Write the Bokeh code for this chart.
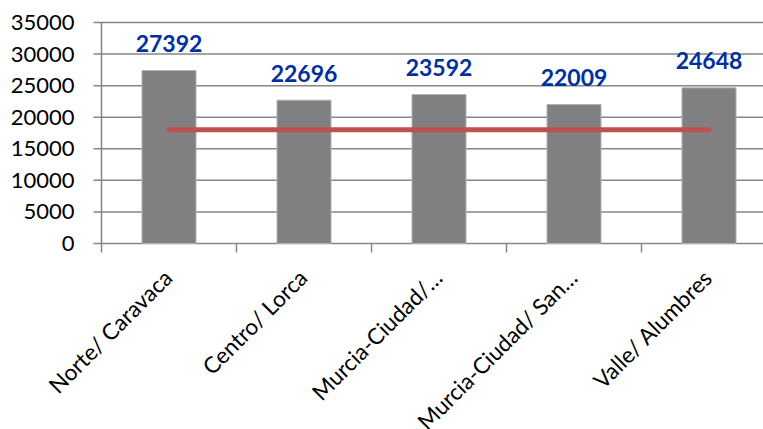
from math import pi

from bokeh.core.properties import value
from bokeh.embed import file_html
from bokeh.models import ColumnDataSource, LabelSet, Range1d
from bokeh.plotting import figure
from bokeh.resources import INLINE

# Areas and their values
categories = ["Norte/ Caravaca", "Centro/ Lorca", "Murcia-Ciudad/\u2026",
              "Murcia-Ciudad/ San\u2026", "Valle/ Alumbres"]
values = [27392, 22696, 23592, 22009, 24648]
# Reference level drawn as a line across the areas
reference = [18000, 18000, 18000, 18000, 18000]
y_ticks = [0, 5000, 10000, 15000, 20000, 25000, 30000, 35000]

FONT = "Lato"
GRID = "#868686"

# Page geometry (pixels). The plotting frame covers the whole page so the
# slanted category names below the axis are not clipped; the value axis is
# drawn by hand at x = 0.
W, H = 763, 429
AXIS_X, AXIS_TOP, AXIS_BOTTOM = 101, 22, 243
PX_PER_CAT = 135
TICK_PX = 8
Y_MAX = 35000

u_y = Y_MAX / (AXIS_BOTTOM - AXIS_TOP)   # value units per pixel
u_x = 1 / PX_PER_CAT                      # category units per pixel

n = len(categories)
xs = [i + 0.5 for i in range(n)]
bounds = list(range(n + 1))

p = figure(width=W, height=H, output_backend="svg", toolbar_location=None,
           x_range=Range1d(-AXIS_X * u_x, (W - AXIS_X) * u_x),
           y_range=Range1d(-(H - AXIS_BOTTOM) * u_y, Y_MAX + AXIS_TOP * u_y),
           x_axis_location=None, y_axis_location=None, min_border=0)
p.outline_line_color = None
p.background_fill_color = "white"
p.border_fill_color = "white"
p.grid.visible = False

# horizontal grid lines, each starting with its tick mark left of the axis
p.segment(x0=[-TICK_PX * u_x] * len(y_ticks), y0=y_ticks,
          x1=[(W - AXIS_X) * u_x] * len(y_ticks), y1=y_ticks,
          line_color=GRID, line_width=1.5)
# value axis line
p.segment(x0=[0], y0=[0], x1=[0], y1=[Y_MAX], line_color=GRID, line_width=1.5)
# category tick marks at the boundaries between areas
p.segment(x0=bounds, y0=[0] * (n + 1), x1=bounds,
          y1=[-9 * u_y] * (n + 1), line_color=GRID, line_width=1.5)

# value axis tick labels
tick_src = ColumnDataSource(dict(x=[0] * len(y_ticks), y=y_ticks,
                                 t=[str(t) for t in y_ticks]))
p.add_layout(LabelSet(x="x", y="y", text="t", source=tick_src, x_offset=-27,
                      text_align="right", text_baseline="middle",
                      text_font=value(FONT), text_font_size="22px",
                      text_color="black"))

src = ColumnDataSource(dict(x=xs, top=values, label=[str(v) for v in values],
                            base=[0] * n, name=categories))

p.vbar(x="x", top="top", width=0.4, source=src, fill_color="#808080",
       line_color="#b0b0b0", line_width=1)
p.line(xs, reference, line_color="#C0504D", line_width=5, line_cap="round")

# value labels above the bars
p.add_layout(LabelSet(x="x", y="top", text="label", source=src, y_offset=27,
                      text_align="center", text_baseline="middle",
                      text_font=value(FONT), text_font_size="23px",
                      text_font_style="bold", text_color="#0030A0"))

# slanted category names under the axis
p.add_layout(LabelSet(x="x", y="base", text="name", source=src,
                      x_offset=-1, y_offset=-30, angle=pi / 4,
                      text_align="right", text_baseline="middle",
                      text_font=value(FONT), text_font_size="22.5px",
                      text_color="black"))

open("out.html", "w").write(file_html(p, INLINE))
